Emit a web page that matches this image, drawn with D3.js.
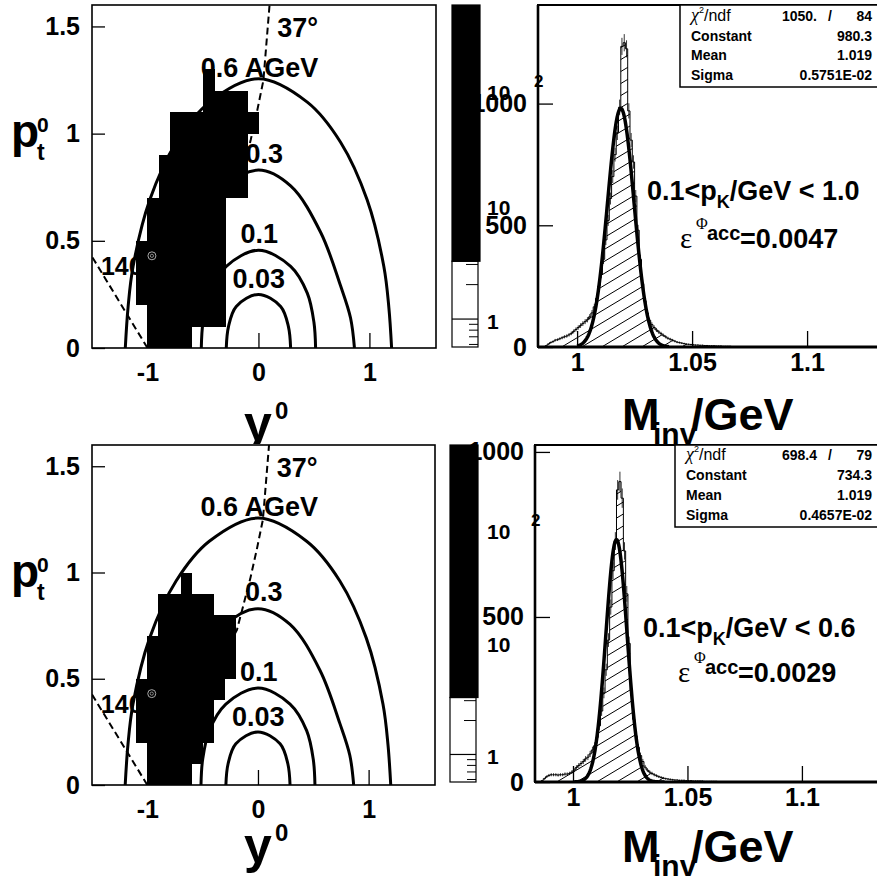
<!DOCTYPE html>
<html>
<head>
<meta charset="utf-8">
<script src="https://cdn.jsdelivr.net/npm/d3@7"></script>
<style>
    body { margin: 0; background: #fff; }
    svg { display: block; }
</style>
</head>
<body>
<div id="wrapper"></div>
<script>
// acceptance cells: columns of width 0.1 in y0, filled from ptLow to ptHigh
const cellWidth = 0.1;
const colStartTop = [-1.1, -1.0, -0.9, -0.8, -0.7, -0.6, -0.5, -0.4, -0.3, -0.2, -0.1];
const ptLowTop    = [0.2, 0.0, 0.0, 0.0, 0.0, 0.1, 0.1, 0.1, 0.7, 0.7, 1.0];
const ptHighTop   = [0.5, 0.7, 0.9, 1.1, 1.1, 1.1, 1.3, 1.2, 1.2, 1.2, 1.1];
const colStartBot = [-1.1, -1.0, -0.9, -0.8, -0.7, -0.6, -0.5, -0.4, -0.3];
const ptLowBot    = [0.2, 0.0, 0.0, 0.0, 0.0, 0.1, 0.2, 0.4, 0.5];
const ptHighBot   = [0.5, 0.7, 0.9, 0.9, 1.0, 0.9, 0.9, 0.8, 0.8];

// constant energy curves (y0, pt0)
const curve06  = [[-1.2, 0], [-1.175, 0.19], [-1.13, 0.38], [-0.98, 0.69], [-0.74, 0.96], [-0.44, 1.147], [0, 1.256], [0.44, 1.147], [0.74, 0.96], [0.98, 0.69], [1.13, 0.38], [1.175, 0.19], [1.2, 0]];
const curve03  = [[-0.865, 0], [-0.83, 0.14], [-0.74, 0.29], [-0.56, 0.54], [-0.29, 0.756], [0, 0.83], [0.29, 0.756], [0.56, 0.54], [0.74, 0.29], [0.83, 0.14], [0.865, 0]];
const curve01  = [[-0.515, 0], [-0.5, 0.12], [-0.44, 0.256], [-0.29, 0.381], [0, 0.456], [0.29, 0.381], [0.44, 0.256], [0.5, 0.12], [0.515, 0]];
const curve003 = [[-0.29, 0], [-0.27, 0.1], [-0.2, 0.194], [0, 0.25], [0.2, 0.194], [0.27, 0.1], [0.29, 0]];
const line37   = [[-0.21, 0.71], [-0.19, 0.73], [-0.07, 0.97], [-0.01, 1.11], [0.045, 1.25], [0.1, 1.6]];
const line140  = [[-1, 0], [-1.5, 0.426]];

const accTicksX = [-1, 0, 1];
const accTicksY = [0, 0.5, 1, 1.5];

// colour palette (log z)
const paletteEdges = [0.57, 3.2, 555];
const paletteFills = ["#ffffff", "#000000"];
const cbMajor = [1, 10, 100];
const cbMinor = [0.6, 0.7, 0.8, 0.9, 2, 3];

// invariant mass histograms, 1 MeV bins from 0.986 GeV
const binStart = 0.986;
const binWidth = 0.001;
const countsTop = [
    5, 12, 18, 22, 28, 30, 34, 38, 42, 45,
    50, 56, 64, 72, 80, 88, 96, 104, 112, 124,
    140, 165, 200, 250, 300, 360, 440, 520, 610, 700,
    790, 880, 985, 1235, 1250, 1225, 970, 850, 760, 620,
    480, 360, 260, 190, 140, 110, 92, 80, 70, 62,
    55, 48, 42, 36, 32, 28, 24, 20, 18, 16,
    14, 12, 11, 10, 9, 8, 8, 7, 7, 6,
    6, 5, 5, 5, 4, 4, 4, 3, 3, 3,
    3, 2, 2, 2];
const countsBot = [
    4, 10, 16, 20, 22, 22, 22, 21, 22, 22,
    24, 24, 26, 30, 36, 44, 50, 56, 62, 70,
    75, 85, 97, 110, 135, 170, 215, 270, 340, 430,
    530, 640, 730, 885, 910, 860, 700, 570, 420, 280,
    190, 140, 105, 80, 62, 45, 36, 30, 26, 22,
    19, 16, 14, 12, 10, 9, 8, 7, 6, 6,
    5, 5, 5, 4, 4, 4, 3, 3, 3, 3,
    3, 2, 2, 2, 2, 2, 2, 1, 1, 1,
    1, 1, 1, 1];

const massTicks = [1, 1.05, 1.1];
const countTicks = [0, 500, 1000];
const fitRange = [1.0, 1.04];
const fitTop = [980.3, 1.019, 0.005751];
const fitBot = [734.3, 1.019, 0.004657];
const parNames = ["Constant", "Mean", "Sigma"];
const parTextTop = ["980.3", "1.019", "0.5751E-02"];
const parTextBot = ["734.3", "1.019", "0.4657E-02"];
const chi2Top = ["1050.", "84"];
const chi2Bot = ["698.4", "79"];
const pMaxTop = "1.0";
const pMaxBot = "0.6";
const effTop = "0.0047";
const effBot = "0.0029";

const FONT = "'Liberation Sans', Arial, Helvetica, sans-serif";
const SERIF = "'Liberation Serif', 'Times New Roman', serif";

function styleAxis(g, size) {
    g.attr("font-family", FONT).attr("font-size", size).attr("font-weight", "bold");
    g.select(".domain").remove();
    g.selectAll(".tick line").attr("stroke", "#000").attr("stroke-width", 1.3);
    g.selectAll(".tick text").attr("fill", "#000");
}

function drawAcceptance(svg, titles, box, cols, lows, highs) {
    const x = d3.scaleLinear().domain([-1.5, 1.6]).range([box.left, box.right]);
    const y = d3.scaleLinear().domain([0, 1.6]).range([box.bottom, box.top]);

    const clipId = "acc" + box.top;
    svg.append("clipPath").attr("id", clipId).append("rect")
        .attr("x", box.left).attr("y", box.top)
        .attr("width", box.right - box.left).attr("height", box.bottom - box.top);
    const g = svg.append("g").attr("clip-path", `url(#${clipId})`);

    const smooth = d3.line().x(d => x(d[0])).y(d => y(d[1])).curve(d3.curveCatmullRom.alpha(0.5));
    const straight = d3.line().x(d => x(d[0])).y(d => y(d[1]));

    g.selectAll("path.energy")
        .data([curve06, curve03, curve01, curve003])
        .enter()
        .append("path")
        .attr("class", "energy")
        .attr("d", smooth)
        .attr("fill", "none")
        .attr("stroke", "#000")
        .attr("stroke-width", 3);

    g.selectAll("path.angle")
        .data([line37, line140])
        .enter()
        .append("path")
        .attr("class", "angle")
        .attr("d", straight)
        .attr("fill", "none")
        .attr("stroke", "#000")
        .attr("stroke-width", 2)
        .attr("stroke-dasharray", "7,4");

    const cells = cols.map((c, i) => ({ x0: c, lo: lows[i], hi: highs[i] }));
    g.selectAll("rect.cell")
        .data(cells)
        .enter()
        .append("rect")
        .attr("class", "cell")
        .attr("x", d => x(d.x0))
        .attr("width", d => x(d.x0 + cellWidth) - x(d.x0) + 0.6)
        .attr("y", d => y(d.hi))
        .attr("height", d => y(d.lo) - y(d.hi))
        .attr("fill", "#000")
        .attr("shape-rendering", "crispEdges");

    // labels on the curves
    const lab = (t, dx, dy, size) => svg.append("text")
        .attr("x", x(dx)).attr("y", y(dy))
        .attr("font-family", FONT).attr("font-weight", "bold")
        .attr("font-size", size).text(t);
    lab("37°", 0.17, 1.45, 27);
    lab("0.6 AGeV", -0.52, 1.266, 27);
    lab("0.3", -0.117, 0.865, 27);
    lab("0.1", -0.162, 0.49, 27);
    lab("0.03", -0.234, 0.28, 27);
    lab("140", -1.42, 0.34, 25);
    svg.append("circle").attr("cx", x(-0.96)).attr("cy", y(0.43)).attr("r", 4)
        .attr("fill", "none").attr("stroke", "#aaa").attr("stroke-width", 1);
    svg.append("circle").attr("cx", x(-0.96)).attr("cy", y(0.43)).attr("r", 1.6)
        .attr("fill", "none").attr("stroke", "#aaa").attr("stroke-width", 0.8);

    svg.append("rect")
        .attr("x", box.left).attr("y", box.top)
        .attr("width", box.right - box.left).attr("height", box.bottom - box.top)
        .attr("fill", "none").attr("stroke", "#000").attr("stroke-width", 1.6);

    svg.append("g")
        .attr("transform", `translate(${box.left},0)`)
        .call(d3.axisLeft(y).tickValues(accTicksY).tickFormat(d => String(d))
            .tickSizeInner(-13).tickSizeOuter(0).tickPadding(12))
        .call(styleAxis, 25);

    svg.append("g")
        .attr("transform", `translate(0,${box.bottom})`)
        .call(d3.axisBottom(x).tickValues(accTicksX).tickFormat(d => String(d))
            .tickSizeInner(-15).tickSizeOuter(0).tickPadding(15))
        .call(styleAxis, 25);

    // axis titles
    const pt = titles.append("text").attr("font-family", FONT).attr("font-weight", "bold");
    pt.append("tspan").attr("x", 11).attr("y", box.pBase).attr("font-size", 46).text("p");
    pt.append("tspan").attr("x", 37).attr("y", box.pBase - 15).attr("font-size", 21).text("0");
    pt.append("tspan").attr("x", 37).attr("y", box.pBase + 13).attr("font-size", 23).text("t");

    const yt = titles.append("text").attr("font-family", FONT).attr("font-weight", "bold");
    yt.append("tspan").attr("x", 244).attr("y", box.yBase).attr("font-size", 50).text("y");
    yt.append("tspan").attr("x", 275).attr("y", box.yBase - 22).attr("font-size", 24).text("0");
}

function drawColorbar(svg, box, histoLeft) {
    const z = d3.scaleLog().domain([paletteEdges[0], paletteEdges[2]]).range([box.bottom, box.top]);
    const bands = paletteFills.map((f, i) => ({ lo: paletteEdges[i], hi: paletteEdges[i + 1], fill: f }));
    svg.selectAll(null)
        .data(bands)
        .enter()
        .append("rect")
        .attr("x", box.left)
        .attr("width", d => box.right - box.left + (d.fill === "#000000" ? 2 : 0))
        .attr("y", d => z(d.hi)).attr("height", d => z(d.lo) - z(d.hi))
        .attr("fill", d => d.fill)
        .attr("stroke", "#000").attr("stroke-width", 1.2);

    svg.selectAll(null)
        .data(cbMinor)
        .enter()
        .append("line")
        .attr("x1", d => box.right - (d < 1 ? 9 : 12)).attr("x2", box.right)
        .attr("y1", d => z(d)).attr("y2", d => z(d))
        .attr("stroke", "#000").attr("stroke-width", 1);
    svg.append("line")
        .attr("x1", box.left).attr("x2", box.right)
        .attr("y1", z(1)).attr("y2", z(1))
        .attr("stroke", "#000").attr("stroke-width", 1.2);

    svg.selectAll(null)
        .data(cbMajor)
        .enter()
        .append("text")
        .attr("x", 487)
        .attr("y", d => z(d) + 10)
        .attr("font-family", FONT).attr("font-weight", "bold").attr("font-size", 21)
        .text(d => d === 1 ? "1" : "10");
    svg.append("text")
        .attr("x", histoLeft - 4).attr("y", z(100) - 3)
        .attr("font-family", FONT).attr("font-weight", "bold").attr("font-size", 17)
        .text("2");
}

function drawHisto(svg, titles, box, counts, fit, chi2, parText, pMax, eff) {
    const x = d3.scaleLinear().domain(box.xDomain).range([box.left, box.right]);
    const y = d3.scaleLinear().domain([0, box.yMax]).range([box.bottom, box.top]);

    const clipId = "hist" + box.top;
    svg.append("clipPath").attr("id", clipId).append("rect")
        .attr("x", box.left).attr("y", box.top)
        .attr("width", box.right - box.left).attr("height", box.bottom - box.top);
    const g = svg.append("g").attr("clip-path", `url(#${clipId})`);

    const steps = counts.flatMap((c, i) => [
        [binStart + i * binWidth, c],
        [binStart + (i + 1) * binWidth, c]
    ]);
    g.append("path")
        .datum(steps)
        .attr("d", d3.area().x(d => x(d[0])).y0(y(0)).y1(d => y(d[1])))
        .attr("fill", "url(#hatch)");
    g.append("path")
        .datum(steps)
        .attr("d", d3.line().x(d => x(d[0])).y(d => y(d[1])))
        .attr("fill", "none")
        .attr("stroke", "#000")
        .attr("stroke-width", 1);

    // statistical error bars
    g.selectAll("line.err")
        .data(counts)
        .enter()
        .append("line")
        .attr("class", "err")
        .attr("x1", (c, i) => x(binStart + (i + 0.5) * binWidth))
        .attr("x2", (c, i) => x(binStart + (i + 0.5) * binWidth))
        .attr("y1", c => y(c - Math.sqrt(c)))
        .attr("y2", c => y(c + Math.sqrt(c)))
        .attr("stroke", "#000")
        .attr("stroke-width", 0.8);

    const gaus = m => fit[0] * Math.exp(-0.5 * Math.pow((m - fit[1]) / fit[2], 2));
    const fitPts = d3.range(fitRange[0], fitRange[1] + 1e-9, 0.0002).map(m => [m, gaus(m)]);
    g.append("path")
        .datum(fitPts)
        .attr("d", d3.line().x(d => x(d[0])).y(d => y(d[1])))
        .attr("fill", "none")
        .attr("stroke", "#000")
        .attr("stroke-width", 3.5);

    svg.append("rect")
        .attr("x", box.left).attr("y", box.top)
        .attr("width", box.right - box.left + 10).attr("height", box.bottom - box.top)
        .attr("fill", "none").attr("stroke", "#000").attr("stroke-width", 2);
    svg.append("line")
        .attr("x1", box.left).attr("x2", box.right + 5)
        .attr("y1", box.bottom).attr("y2", box.bottom)
        .attr("stroke", "#000").attr("stroke-width", 3);
    svg.append("line")
        .attr("x1", box.left).attr("x2", box.left)
        .attr("y1", box.top).attr("y2", box.bottom)
        .attr("stroke", "#000").attr("stroke-width", 2.6);

    svg.append("g")
        .attr("transform", `translate(0,${box.bottom})`)
        .call(d3.axisBottom(x).tickValues(massTicks).tickFormat(d => String(d))
            .tickSizeInner(-16).tickSizeOuter(0).tickPadding(6))
        .call(styleAxis, 25);
    svg.append("g")
        .attr("transform", `translate(${box.left},0)`)
        .call(d3.axisLeft(y).tickValues(countTicks).tickFormat(d => String(d))
            .tickSizeInner(-15).tickSizeOuter(0).tickPadding(11))
        .call(styleAxis, 25);

    // fit statistics box
    svg.append("rect")
        .attr("x", box.statLeft).attr("y", box.top)
        .attr("width", 877 - box.statLeft + 5).attr("height", box.statBottom - box.top)
        .attr("fill", "#fff").attr("stroke", "#000").attr("stroke-width", 1.5);
    const rows = box.statRows;
    const c2 = svg.append("text").attr("x", box.statLeft + 11).attr("y", rows[0]).attr("font-family", FONT);
    c2.append("tspan").attr("font-family", SERIF).attr("font-style", "italic").attr("font-size", 18).text("χ");
    c2.append("tspan").attr("font-size", 9).attr("dy", -8).text("2");
    c2.append("tspan").attr("font-size", 16).attr("dy", 8).text("/ndf");
    const stat = (t, xx, yy, anchor) => svg.append("text")
        .attr("x", xx).attr("y", yy).attr("text-anchor", anchor)
        .attr("font-family", FONT).attr("font-weight", "bold").attr("font-size", 14)
        .text(t);
    stat(chi2[0], 817, rows[0], "end");
    stat("/", 830, rows[0], "middle");
    stat(chi2[1], 872, rows[0], "end");
    parNames.forEach((n, i) => {
        stat(n, box.statLeft + 11, rows[i + 1], "start");
        stat(parText[i], 872, rows[i + 1], "end");
    });

    // momentum window and acceptance
    const pk = svg.append("text").attr("x", box.pkX).attr("y", box.pkY)
        .attr("font-family", FONT).attr("font-weight", "bold").attr("font-size", 27);
    pk.append("tspan").text("0.1<p");
    pk.append("tspan").attr("font-size", 18).attr("dy", 8).text("K");
    pk.append("tspan").attr("dy", -8).text("/GeV < " + pMax);

    const ef = svg.append("text").attr("y", box.effY).attr("font-family", FONT).attr("font-weight", "bold");
    ef.append("tspan").attr("x", box.effX).attr("font-family", SERIF).attr("font-weight", "normal")
        .attr("font-size", 29).text("ε");
    ef.append("tspan").attr("x", box.effX + 16).attr("dy", -19).attr("font-family", SERIF)
        .attr("font-weight", "normal").attr("font-size", 16).text("Φ");
    ef.append("tspan").attr("x", box.effX + 27).attr("dy", 11).attr("font-size", 20).text("acc");
    ef.append("tspan").attr("x", box.effX + 60).attr("dy", 8).attr("font-size", 27).text("=" + eff);

    // axis title
    const mt = titles.append("text").attr("font-family", FONT).attr("font-weight", "bold");
    mt.append("tspan").attr("x", 622).attr("y", box.mBase).attr("font-size", 45).text("M");
    mt.append("tspan").attr("x", 653).attr("y", box.mBase + 14).attr("font-size", 30).text("inv");
    mt.append("tspan").attr("x", 691).attr("y", box.mBase).attr("font-size", 45).text("/GeV");
}

function buildPlot() {
    var dimension = { width: 877, height: 881, rowSplit: 444 };

    const svg = d3.select("#wrapper").append("svg")
        .attr("width", dimension.width)
        .attr("height", dimension.height);
    svg.append("rect").attr("width", dimension.width).attr("height", dimension.height).attr("fill", "#fff");

    const defs = svg.append("defs");
    const hatch = defs.append("pattern")
        .attr("id", "hatch")
        .attr("patternUnits", "userSpaceOnUse")
        .attr("width", 20).attr("height", 12);
    hatch.append("path")
        .attr("d", "M-5,15 L25,-3 M-5,3 L5,-3 M15,15 L25,9")
        .attr("stroke", "#000").attr("stroke-width", 1);

    // the upper pad ends where the lower one starts
    defs.append("clipPath").attr("id", "upperPad").append("rect")
        .attr("x", 0).attr("y", 0).attr("width", dimension.width).attr("height", dimension.rowSplit);
    const upperTitles = svg.append("g").attr("clip-path", "url(#upperPad)");
    const lowerTitles = svg.append("g");

    // upper row
    drawAcceptance(svg, upperTitles, { left: 92, right: 436, top: 5, bottom: 348, pBase: 147, yBase: 441 },
        colStartTop, ptLowTop, ptHighTop);
    drawHisto(svg, upperTitles, {
        left: 538, right: 877, top: 5, bottom: 347, xDomain: [0.983, 1.1304], yMax: 1405,
        statLeft: 680, statBottom: 87, statRows: [21, 41, 60, 80],
        pkX: 647, pkY: 200, effX: 680, effY: 248, mBase: 430
    }, countsTop, fitTop, chi2Top, parTextTop, pMaxTop, effTop);
    drawColorbar(svg, { left: 452, right: 478, top: 5, bottom: 347 }, 538);

    // lower row
    drawAcceptance(svg, lowerTitles, { left: 92, right: 435, top: 445, bottom: 785, pBase: 587, yBase: 863 },
        colStartBot, ptLowBot, ptHighBot);
    drawHisto(svg, lowerTitles, {
        left: 535, right: 877, top: 445, bottom: 782, xDomain: [0.9834, 1.1328], yMax: 1021,
        statLeft: 675, statBottom: 527, statRows: [460, 480, 500, 520],
        pkX: 643, pkY: 637, effX: 678, effY: 682, mBase: 862
    }, countsBot, fitBot, chi2Bot, parTextBot, pMaxBot, effBot);
    drawColorbar(svg, { left: 450, right: 476, top: 445, bottom: 782 }, 535);
}

buildPlot();
</script>
</body>
</html>
